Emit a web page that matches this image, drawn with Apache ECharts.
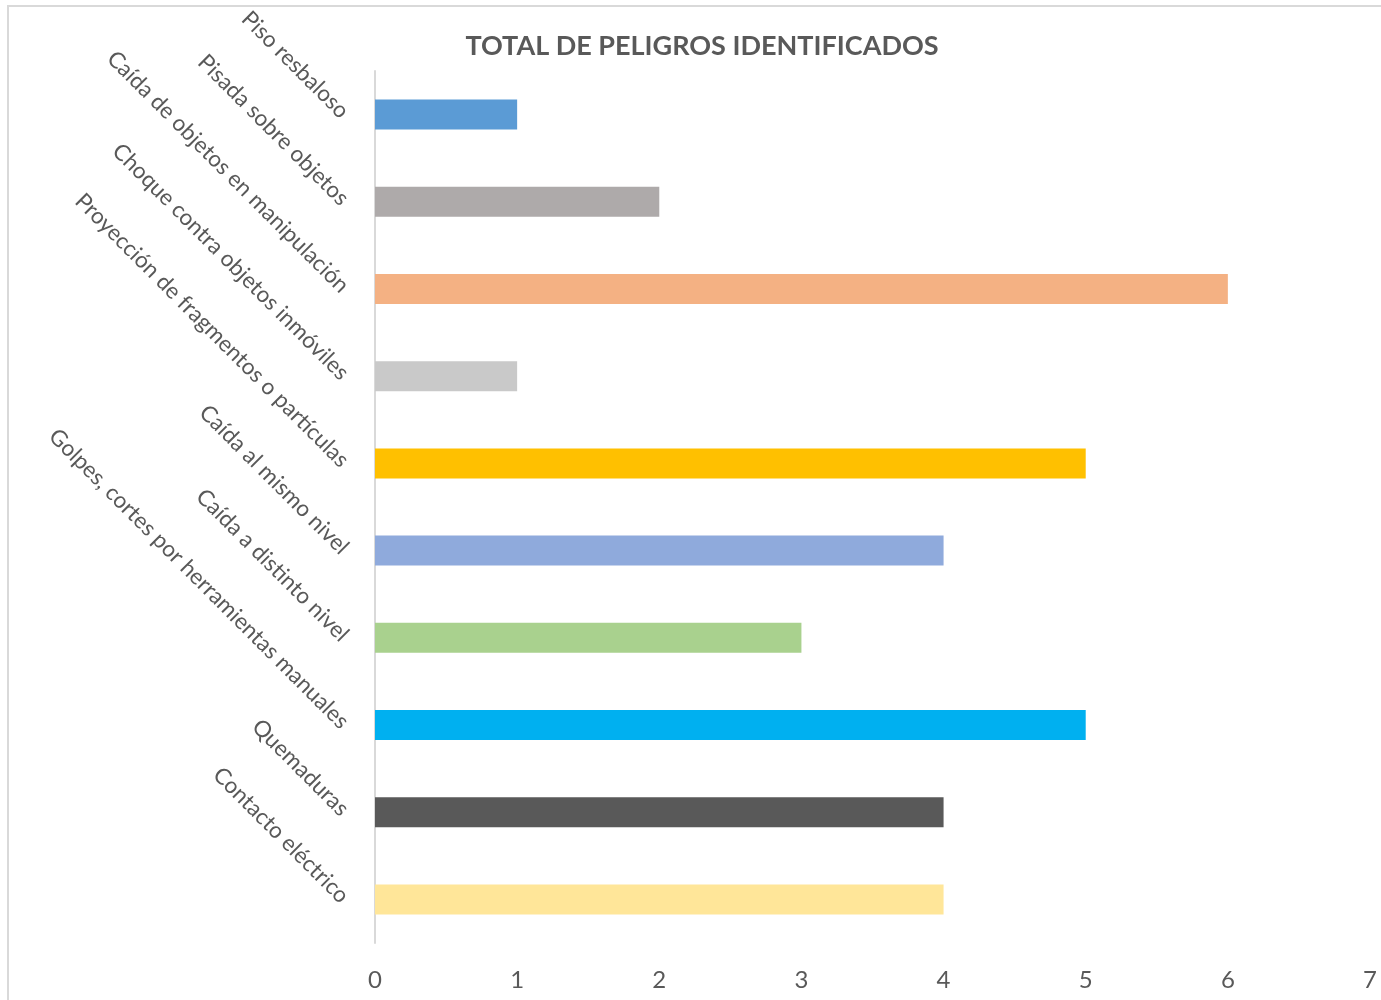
<!DOCTYPE html>
<html><head><meta charset="utf-8">
<script src="https://cdn.jsdelivr.net/npm/echarts@6/dist/echarts.min.js"></script>
<style>html,body{margin:0;padding:0;background:#fff}#c{width:1381px;height:1000px}</style>
</head><body><div id="c"></div>
<script>
const categories = ["Contacto eléctrico","Quemaduras","Golpes, cortes por herramientas manuales","Caída a distinto nivel","Caída al mismo nivel","Proyección de fragmentos o partículas","Choque contra objetos inmóviles","Caída de objetos en manipulación","Pisada sobre objetos","Piso resbaloso"];
const values = [4,4,5,3,4,5,1,6,2,1];
const barColors = ["#FFE699","#595959","#00B0F0","#A9D18E","#8FAADC","#FFC000","#C9C9C9","#F4B183","#AEAAAA","#5B9BD5"];
const xTicks = [0,1,2,3,4,5,6,7];
const title = "TOTAL DE PELIGROS IDENTIFICADOS";

const font = "Lato";
const chart = echarts.init(document.getElementById('c'));
chart.setOption({
  animation:false,
  title:{text:title,left:702,top:33,textAlign:'center',padding:0,textStyle:{fontFamily:font,fontSize:27,fontWeight:'bold',color:'#595959'}},
  graphic:[{type:'rect',shape:{x:8,y:6,width:1400,height:1100},style:{fill:'none',stroke:'#D9D9D9',lineWidth:2},silent:true}],
  grid:{left:375,right:11,top:71,bottom:57},
  xAxis:{type:'value',min:0,max:7,interval:1,
    axisLine:{show:false},axisTick:{show:false},splitLine:{show:false},
    axisLabel:{fontFamily:font,fontSize:24,color:'#595959',margin:25,
      formatter:(v)=>String(xTicks[Math.round(v)])}},
  yAxis:{type:'category',data:categories,
    axisLine:{show:true,lineStyle:{color:'#D9D9D9',width:2}},axisTick:{show:false},
    axisLabel:{rotate:-45,fontFamily:font,fontSize:22.5,color:'#595959',margin:30,interval:0}},
  series:[{type:'bar',barWidth:30,
    data:values.map((v,i)=>({value:v,itemStyle:{color:barColors[i]}}))}]
});
</script></body></html>
